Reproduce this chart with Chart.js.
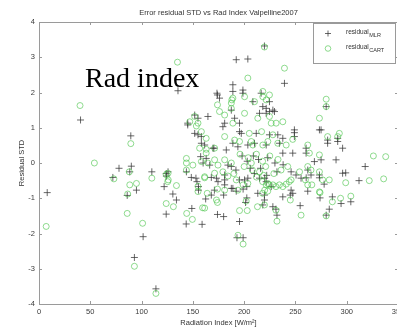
<!DOCTYPE html>
<html>
<head>
<meta charset="utf-8">
<script src="https://cdn.jsdelivr.net/npm/chart.js@4.4.0/dist/chart.umd.min.js"></script>
<style>
  html, body { margin: 0; padding: 0; background: #fff; overflow: hidden; }
  #wrap { width: 420px; height: 328px; }
</style>
</head>
<body>
<div id="wrap"><canvas id="chart" width="420" height="328"></canvas></div>
<script>
// residual_MLR points (Radiation Index, Residual STD)
const mlrX = [8, 40.5, 89.5, 78, 90, 110, 124, 72, 95, 86, 101.5, 93, 114, 135.5, 174, 176, 122, 130.5, 134, 124,
  143.5, 149, 159, 162.5, 168, 171, 174, 180, 180, 153, 154, 155.5, 155.5, 173, 181, 174.5, 181, 187.5, 193, 199,
  195.5, 202.6, 201.4, 189, 192.3, 199, 202.6, 200.4, 203.6, 195.5, 218.2, 219.8, 219.8, 213.3, 215, 220, 221.5, 226.4, 237.7, 245.8,
  247.4, 228, 231, 232, 254.6, 262, 260.5, 273.4, 278, 274, 280, 283, 286, 294.5, 304, 299, 245, 219.8, 192.3, 203.6,
  239.3, 189, 198.8, 173.5, 187.5, 280, 273.4, 291.2, 296, 249, 249, 296, 189, 198.8, 208.5, 216.6, 224.7, 218.2, 215, 221.5,
  224.7, 228, 229.6, 221.5, 190.7, 195.5, 195.5, 197.2, 211.8, 224.7, 232.8, 237.7, 249, 189, 193.9, 203.6, 210.1, 221.5, 234.4, 237.7,
  247.4, 260.4, 260.4, 275, 281.4, 281.4, 291.2, 268.5, 275, 289.6, 262, 265.2, 273.4, 245.8, 250.6, 255.5, 164.7, 151.8, 155, 145,
  179.3, 181, 151.8, 155, 158.3, 161.5, 170.5, 182.6, 157.6, 163, 160, 166.4, 184.2, 187.5, 88.5, 125.8, 124.2, 143.7, 148.5, 168,
  181, 198, 203, 209, 214, 223, 230, 206, 216, 192, 210, 222, 232, 238, 145, 158.3, 169.6, 312, 318];
const mlrY = [-0.84, 1.22, 0.77, -0.15, -0.09, -0.25, -0.3, -0.41, -0.77, -0.92, -2.09, -2.68, -3.57, 2.05, 1.93, 1.84, -0.67, -0.88, -1.05, -1.45,
  -1.73, -1.29, -1.74, -1.02, -0.91, -0.77, -1.46, -1.52, -0.91, -0.43, -0.53, -0.67, -0.77, -0.43, -0.48, -0.53, -0.62, -0.72, -2.12, -2.12,
  -1.66, -0.99, -1.12, -0.72, -0.8, -0.74, -0.67, -0.48, -0.43, -0.48, -1.19, -1.05, -0.91, -0.86, -0.43, -0.43, -0.53, -0.67, -0.96, -0.77,
  -0.86, -1.24, -1.31, -1.48, -1.21, -0.8, -0.42, -0.42, -0.6, -0.99, -1.48, -1.31, -0.96, -1.15, -1.1, -0.28, -0.91, 3.32, 2.93, 2.95,
  2.26, 2.22, 2.07, 1.98, 1.5, 1.6, 0.94, 0.7, 0.42, 0.94, 0.86, -0.29, 2.03, 1.98, 1.74, 1.98, 1.74, 1.6, 1.41, 1.41,
  1.46, 1.5, 1.46, 1.55, 1.27, 1.13, 0.89, 0.84, 0.84, 0.8, 0.8, 0.7, 0.75, 0.56, 0.46, 0.51, 0.56, 0.51, 0.56, 0.28,
  0.28, 0.42, 0.28, 0.94, 0.65, 0.56, 0.61, 0.04, 0.09, 0.09, -0.2, -0.34, -0.34, -0.25, -0.34, -0.43, 1.32, 1.36, 1.27, 1.13,
  1.03, 1.13, 0.84, 0.8, 0.56, 0.51, 0.42, 0.37, 0.18, 0.13, 0, -0.06, -0.06, -0.1, -0.25, -0.25, -0.37, -0.25, -0.41, -0.41,
  -0.34, 0.2, 0.05, 0.2, 0.1, 0.15, 0.0, -0.15, -0.15, -0.2, -0.3, -0.35, -0.25, -0.05, 1.08, 0.75, 0.42, -0.5, -0.1];

// residual_CART points
const cartX = [7, 40, 89.5, 54, 88, 124, 73, 88.5, 95, 86.5, 86, 101, 93, 114, 135, 174, 110, 125.5, 124, 131,
  134, 149.5, 144, 161.5, 173, 174, 194, 199, 195.5, 203, 159.5, 202, 213, 219.8, 218, 220, 223, 221.5, 232, 231,
  255.5, 245, 274, 280, 286, 294, 304, 299, 262, 259.7, 266, 273.4, 283, 276.6, 164, 155, 155, 181, 174, 161.5,
  126, 192.3, 194, 199, 203.6, 218, 223, 224.7, 228, 231, 234.4, 237.7, 241, 244, 245.8, 219.8, 239.3, 203.6, 189, 187.5,
  188, 187.5, 181, 176, 151.8, 147, 155, 153.4, 181, 189, 158.3, 163, 156.6, 163, 171.2, 163, 143.7, 143.7, 150, 158.3,
  164.7, 171.2, 174.5, 181, 187.5, 125.8, 143.7, 161.5, 171.2, 179.3, 184.2, 200.4, 210.1, 218.2, 224.7, 221.5, 280, 280, 273.4, 292.8,
  200.4, 213.3, 226.4, 231.2, 237.7, 224.7, 205, 217, 228, 190.7, 195.5, 206.9, 208.5, 218.2, 223.1, 232.8, 241, 262, 263.6, 281.4,
  291.2, 273.4, 262, 265.2, 273.4, 254, 242.5, 247.4, 218.2, 196, 204, 212, 218, 225, 233, 200, 208, 215, 221, 229,
  236, 190, 212, 207, 219, 326, 338, 322, 336];
const cartY = [-1.8, 1.63, 0.55, 0.0, -0.25, -0.33, -0.45, -0.62, -0.58, -0.88, -1.43, -1.71, -2.93, -3.7, 2.86, 1.65, -0.43, -0.53, -1.15, -1.24,
  -0.64, -1.6, -1.43, -1.28, -1.05, -1.12, -2.05, -2.3, -1.35, -1.35, -1.27, -1.08, -1.24, -1.19, -0.86, -0.77, -0.8, -0.62, -1.65, -1.34,
  -1.48, -1.05, -0.84, -1.5, -1.1, -1.0, -0.94, -0.56, -0.62, -0.48, -0.62, -0.82, -0.48, -0.48, -0.86, -0.66, -0.81, -0.77, -0.74, -0.42,
  -0.48, -0.48, -0.77, -0.62, -0.58, -0.53, -0.58, -0.62, -0.62, -0.67, -0.62, -0.67, -0.6, -0.53, -0.48, 3.29, 2.69, 2.41, 1.84, 1.7,
  1.79, 1.55, 1.36, 1.46, 1.32, 1.17, 1.13, 1.05, 0.75, 1.13, 0.89, 0.7, 0.42, 0.39, 0.42, 0.28, 0.13, 0, -0.06, 0.04,
  0, 0.09, -0.06, 0.09, 0, -0.29, -0.2, -0.39, -0.29, -0.25, -0.37, 1.88, 1.74, 1.88, 1.93, 1.79, 1.81, 1.6, 1.27, 0.84,
  1.41, 1.27, 1.13, 1.13, 1.17, 1.32, 0.84, 0.89, 0.8, 0.65, 0.61, 0.61, 0.51, 0.51, 0.61, 0.56, 0.51, 0.51, 0.28, 0.75,
  0.75, 0.23, -0.1, -0.2, -0.25, -0.25, -0.1, 0.67, 2.03, 0.25, 0.15, 0.25, 0.05, 0.2, 0.1, -0.1, -0.2, -0.25, -0.1, -0.3,
  -0.2, -0.3, -0.4, 0.0, -0.35, 0.2, 0.18, -0.5, -0.45];

const xTicks = [0, 50, 100, 150, 200, 250, 300, 350];
const yTicks = [-4, -3, -2, -1, 0, 1, 2, 3, 4];

const toPoints = (xs, ys) => xs.map((x, i) => ({x: x, y: ys[i]}));

const textColor = '#3a3a3a';
const axisColor = '#9a9a9a';
const crossColor = 'rgba(55,55,55,0.75)';
const ringColor = 'rgba(70,195,70,0.6)';
const font = 'Liberation Sans';

// box, inward ticks, title, legend and overlay text
const matlabLook = {
  id: 'matlabLook',
  afterDraw(chart) {
    const ctx = chart.ctx;
    const a = chart.chartArea;
    const xs = chart.scales.x, ys = chart.scales.y;
    ctx.save();
    ctx.strokeStyle = axisColor;
    ctx.lineWidth = 1;
    ctx.strokeRect(Math.round(a.left) + 0.5, Math.round(a.top) + 0.5,
      Math.round(a.right - a.left), Math.round(a.bottom - a.top));
    ctx.beginPath();
    xTicks.forEach(v => {
      const px = Math.round(xs.getPixelForValue(v)) + 0.5;
      ctx.moveTo(px, a.bottom); ctx.lineTo(px, a.bottom - 3);
      ctx.moveTo(px, a.top); ctx.lineTo(px, a.top + 3);
    });
    yTicks.forEach(v => {
      const py = Math.round(ys.getPixelForValue(v)) + 0.5;
      ctx.moveTo(a.left, py); ctx.lineTo(a.left + 3, py);
      ctx.moveTo(a.right, py); ctx.lineTo(a.right - 3, py);
    });
    ctx.stroke();

    // title
    ctx.fillStyle = '#333';
    ctx.font = '7.5px "' + font + '"';
    ctx.textAlign = 'center';
    ctx.textBaseline = 'middle';
    ctx.fillText('Error residual STD vs Rad Index Valpelline2007', (a.left + a.right) / 2, 13);

    // legend
    ctx.fillStyle = '#fff';
    ctx.fillRect(313.5, 23.5, 82, 40);
    ctx.strokeStyle = axisColor;
    ctx.strokeRect(313.5, 23.5, 82, 40);
    ctx.strokeStyle = crossColor;
    ctx.beginPath();
    ctx.moveTo(325, 33.5); ctx.lineTo(331, 33.5);
    ctx.moveTo(328, 30.5); ctx.lineTo(328, 36.5);
    ctx.stroke();
    ctx.strokeStyle = ringColor;
    ctx.beginPath();
    ctx.arc(328, 48.5, 2.8, 0, Math.PI * 2);
    ctx.stroke();
    ctx.fillStyle = '#333';
    ctx.textAlign = 'left';
    ctx.textBaseline = 'alphabetic';
    ctx.font = '6.5px "' + font + '"';
    ctx.fillText('residual', 346, 34);
    ctx.fillText('residual', 346, 49);
    const w = ctx.measureText('residual').width;
    ctx.font = '5.5px "' + font + '"';
    ctx.fillText('MLR', 346 + w + 0.5, 37);
    ctx.fillText('CART', 346 + w + 0.5, 52);

    // overlay label
    ctx.fillStyle = '#000';
    ctx.font = '28px "Liberation Serif"';
    ctx.fillText('Rad index', 85, 87);
    ctx.restore();
  }
};

function chartIt() {
  const ctx = document.getElementById('chart').getContext('2d');
  new Chart(ctx, {
    type: 'scatter',
    data: {
      datasets: [{
        label: 'residual MLR',
        data: toPoints(mlrX, mlrY),
        pointStyle: 'cross',
        pointRadius: 3.5,
        borderColor: crossColor,
        borderWidth: 1,
        order: 2
      }, {
        label: 'residual CART',
        data: toPoints(cartX, cartY),
        pointStyle: 'circle',
        pointRadius: 3,
        backgroundColor: 'rgba(0,0,0,0)',
        borderColor: ringColor,
        borderWidth: 1,
        order: 1
      }]
    },
    options: {
      responsive: false,
      animation: false,
      devicePixelRatio: 1,
      layout: {padding: {top: 22, right: 22, left: 0, bottom: 0}},
      plugins: {legend: {display: false}, tooltip: {enabled: false}},
      scales: {
        x: {
          type: 'linear', min: 0, max: 350,
          afterBuildTicks: s => { s.ticks = xTicks.map(v => ({value: v})); },
          afterFit: s => { s.height = 24; s.paddingLeft = 0; s.paddingRight = 0; },
          grid: {display: false, drawTicks: false},
          border: {display: false},
          ticks: {color: textColor, font: {family: font, size: 7.5}, padding: 3, maxRotation: 0, autoSkip: false},
          title: {display: true, text: 'Radiation Index [W/m²]', color: '#333',
            font: {family: font, size: 7.5}, padding: {top: 0, bottom: 1}}
        },
        y: {
          type: 'linear', min: -4, max: 4,
          afterBuildTicks: s => { s.ticks = yTicks.map(v => ({value: v})); },
          afterFit: s => { s.width = 39; s.paddingTop = 0; s.paddingBottom = 0; },
          grid: {display: false, drawTicks: false},
          border: {display: false},
          ticks: {color: textColor, font: {family: font, size: 7.5}, padding: 4, autoSkip: false},
          title: {display: true, text: 'Residual STD', color: '#333',
            font: {family: font, size: 7.5}, padding: {top: 17, bottom: 0}}
        }
      }
    },
    plugins: [matlabLook]
  });
}

chartIt();
</script>
</body>
</html>
